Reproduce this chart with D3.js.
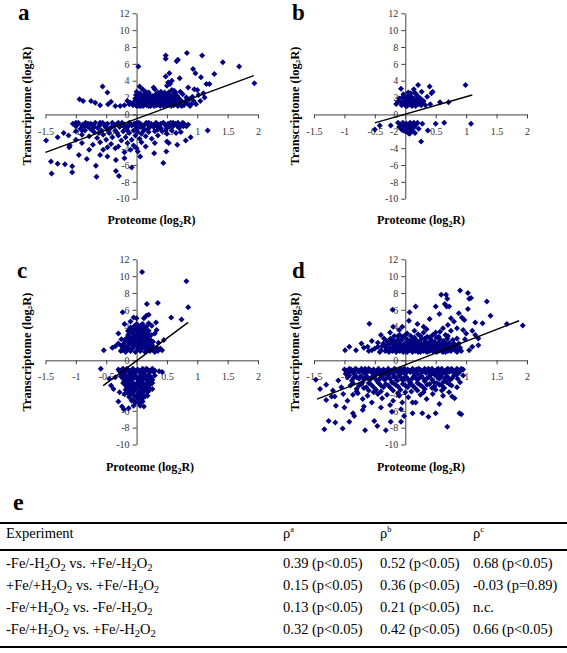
<!DOCTYPE html>
<html><head><meta charset="utf-8">
<script src="https://cdn.jsdelivr.net/npm/d3@7"></script>
<style>body{margin:0;background:#fff}svg{display:block}text{font-family:"Liberation Serif","Times New Roman",serif}</style>
</head><body><svg id="chart" width="567" height="653"></svg>
<script>
const xTicks=[-1.5,-1,-0.5,0,0.5,1,1.5,2];
const yTicks=[-10,-8,-6,-4,-2,0,2,4,6,8,10,12];

const aPoints=[[0.83,7.3],[0.48,7.0],[0.48,6.6],[0.68,6.5],[0.66,6.3],[1.08,7.0],[1.42,6.2],[1.69,5.7],[0.03,5.7],[0.93,5.4],[0.97,4.9],[1.28,4.8],[0.54,4.9],[0.48,4.5],[0.52,3.8],[0.55,3.6],[0.5,3.4],[0.58,4.0],[0.71,4.3],[1.06,4.4],[1.15,3.6],[1.2,3.6],[1.94,3.7],[-0.56,3.3],[-0.48,2.6],[0.05,3.3],[0.1,3.0],[0.28,3.2],[0.3,3.0],[0.95,3.0],[1.0,2.9],[0.85,3.2],[0.62,2.8],[0.4,2.7],[0.2,2.6],[1.1,2.5],[1.12,2.0],[1.05,1.6],[0.98,1.2],[1.02,2.3],[0.92,2.1],
[-0.94,1.8],[-0.88,1.6],[-0.75,1.6],[-0.68,1.4],[-0.6,1.1],[-0.47,1.2],[-0.42,1.5],[-0.35,1.0],[-0.27,1.0],[-0.2,1.1],[-0.12,1.2],[-0.15,1.6],
[-0.06,1.1],[-0.04,1.5],[-0.02,1.9],[-0.01,2.3],[0.01,1.2],[0.02,1.7],[0.03,2.1],[0.04,1.0],[0.05,1.4],[0.06,2.5],[0.07,1.8],[0.08,1.2],[0.09,2.2],[0.1,1.5],[0.11,1.0],[0.12,1.9],[0.13,2.4],[0.14,1.3],[0.15,1.7],[0.16,2.1],[0.17,1.1],[0.18,1.5],[0.19,2.0],[0.2,1.2],[0.21,1.8],[0.22,2.3],[0.23,1.0],[0.24,1.4],[0.25,1.9],[0.26,1.2],[0.27,2.2],[0.28,1.6],[0.29,1.0],[0.3,1.3],[0.31,1.8],[0.32,2.4],[0.33,1.1],[0.34,1.5],[0.35,2.0],[0.36,1.2],[0.37,1.7],[0.38,2.2],[0.39,1.0],[0.4,1.4],[0.41,1.9],[0.42,1.2],[0.43,2.4],[0.44,1.6],[0.45,1.0],[0.46,2.0],[0.47,1.3],[0.48,1.7],[0.49,2.2],[0.5,1.1],[0.51,1.5],[0.52,1.9],[0.53,2.6],[0.54,1.2],[0.55,1.7],[0.56,2.1],[0.57,1.0],[0.58,1.4],[0.59,2.3],[0.6,1.8],[0.61,1.1],[0.62,1.5],[0.63,2.0],[0.64,2.6],[0.65,1.2],[0.66,1.7],[0.67,2.2],[0.68,1.0],[0.69,1.4],[0.7,1.9],[0.72,1.2],[0.74,1.6],[0.76,2.4],[0.78,1.1],[0.8,1.5],[0.82,2.0],[0.84,1.3],[0.87,1.8],[0.9,1.2],[0.94,1.6],[0.72,2.7],[0.58,2.9],[0.46,2.6],[0.15,2.7],[0.0,2.7],[0.35,2.6],
[0.0,1.0],[0.03,1.5],[0.07,1.0],[0.1,2.0],[0.2,1.0],[0.3,2.1],[0.4,1.7],[0.5,2.4],[0.6,1.2],[0.7,1.5],[0.74,1.0],[0.88,1.0],[0.2,2.3],[-0.1,1.4],
[-1.05,-1.1],[-1.0,-1.4],[-0.96,-1.0],[-0.92,-1.7],[-0.88,-1.2],[-0.84,-1.0],[-0.8,-1.5],[-0.76,-1.1],[-0.72,-1.3],[-0.68,-1.0],[-0.64,-1.6],[-0.6,-1.2],[-0.56,-1.0],[-0.52,-1.4],[-0.48,-1.1],[-0.44,-1.7],[-0.4,-1.0],[-0.36,-1.3],[-0.32,-1.1],[-0.28,-1.5],[-0.24,-1.0],[-0.2,-1.2],[-0.16,-1.6],[-0.12,-1.0],[-0.08,-1.3],[-0.04,-1.1],[0.0,-1.5],[0.04,-1.0],[0.08,-1.2],[0.12,-1.7],[0.16,-1.0],[0.2,-1.3],[0.24,-1.1],[0.28,-1.5],[0.32,-1.0],[0.36,-1.2],[0.4,-1.6],[0.44,-1.0],[0.48,-1.3],[0.52,-1.1],[0.56,-1.0],[0.6,-1.4],[0.64,-1.1],[0.68,-1.0],[0.72,-1.3],[0.78,-1.1],[0.85,-1.2],
[-1.0,-1.0],[-0.9,-1.3],[-0.8,-1.1],[-0.7,-1.5],[-0.6,-1.0],[-0.5,-1.2],[-0.4,-1.4],[-0.3,-1.0],[-0.2,-1.5],[-0.1,-1.1],[0.0,-1.0],[0.1,-1.4],[0.2,-1.0],[0.3,-1.2],[0.4,-1.1],[0.5,-1.6],[0.6,-1.0],[0.7,-1.6],
[-0.98,-1.2],[-0.86,-1.4],[-0.74,-1.2],[-0.62,-1.4],[-0.5,-1.5],[-0.38,-1.2],[-0.26,-1.3],[-0.14,-1.4],[-0.02,-1.3],[0.06,-1.5],[0.14,-1.2],[0.22,-1.5],[0.34,-1.4],[0.46,-1.1],[0.54,-1.4],[0.66,-1.3],[0.76,-1.0],[0.82,-1.4],[-0.9,-1.9],[-0.75,-1.8],[-0.62,-2.2],[-0.48,-1.8],[-0.32,-2.2],[-0.15,-1.9],[0.0,-1.8],[0.18,-1.8],[0.35,-1.8],[0.48,-1.9],
[-1.0,-2.0],[-0.9,-2.4],[-0.85,-1.9],[-0.78,-2.6],[-0.7,-2.1],[-0.65,-2.8],[-0.58,-1.9],[-0.55,-2.4],[-0.5,-3.0],[-0.45,-2.2],[-0.4,-2.7],[-0.35,-1.9],[-0.3,-2.5],[-0.25,-3.1],[-0.22,-2.0],[-0.18,-2.7],[-0.12,-2.2],[-0.08,-3.0],[-0.05,-1.9],[-0.02,-2.5],[0.02,-2.1],[0.05,-2.9],[0.08,-2.3],[0.12,-1.9],[0.15,-2.6],[0.2,-2.1],[0.25,-2.9],[0.3,-2.0],[0.35,-2.5],[0.42,-2.0],[0.5,-2.3],[0.58,-1.9],[0.65,-2.2],[-0.6,-3.3],[-0.42,-3.5],[-0.3,-3.8],[-0.15,-3.4],[-0.05,-3.7],[0.0,-4.0],[0.02,-4.4],[0.08,-3.3],[-0.1,-4.2],[-0.2,-4.5],[-0.35,-4.0],[-0.48,-3.9],[-0.72,-3.6],[-0.78,-4.2],[-0.9,-3.4],[-1.1,-3.7],[-1.0,-3.0],[-1.12,-2.5],[-1.2,-2.2],
[1.17,-1.9],[0.89,-2.7],[0.77,-1.4],[0.73,-2.1],[0.81,-3.1],[0.67,-3.6],[0.5,-3.2],[0.53,-3.4],
[-1.49,-3.1],[-1.3,-2.7],[-1.11,-3.9],[-1.41,-5.6],[-1.4,-7.0],[-1.3,-5.85],[-1.18,-5.9],[-1.06,-6.15],[-1.06,-6.85],[-0.95,-4.8],[-0.67,-6.1],[-0.66,-7.4],[-0.48,-5.0],[-0.34,-5.4],[-0.34,-6.7],[-0.29,-7.3],[-0.08,-6.3],[0.06,-5.0],[0.29,-4.6],[0.44,-5.75],[0.49,-4.4],[-0.6,-4.8],[-0.2,-5.2],[-0.55,-4.2],[0.3,-3.4],[0.15,-3.8],[-0.82,-5.3]];
const aFit=[[-1.5,-4.5],[1.93,4.6]];

const bPoints=[[-0.07,3.06],[0.21,3.5],[0.4,3.3],[0.45,2.7],[0.36,2.1],[0.43,2.5],[0.99,3.5],[0.57,1.45],[0.71,1.45],[0.41,1.2],[0.14,3.0],[0.27,2.7],[0.15,2.6],[-0.15,1.25],[0.33,1.1],[0.2,2.2],[0.25,1.9],[0.3,1.6],[0.18,1.3],
[-0.1,1.9],[-0.08,1.5],[-0.06,1.1],[-0.04,2.1],[-0.02,1.7],[0.0,1.3],[0.02,2.0],[0.03,1.0],[0.04,1.6],[0.06,2.3],[0.07,1.2],[0.08,1.8],[0.09,1.4],[0.1,2.1],[0.11,1.0],[0.12,1.6],[0.13,1.2],[0.14,1.9],[0.16,1.5],[0.17,1.0],[0.18,2.4],[0.19,1.7],[0.21,1.2],[0.23,1.5],[0.26,1.1],[0.05,2.6],[-0.03,2.4],[0.01,1.0],[-0.05,1.2],[0.09,2.5],[0.22,1.9],[-0.12,1.5],[0.28,1.3],[0.11,1.3],
[-0.5,-1.8],[-0.42,-1.3],[-0.24,-1.3],[0.28,-1.1],[0.5,-1.1],[0.64,-1.0],[1.08,-1.1],[0.37,-1.9],[0.26,-3.2],[0.16,-2.2],
[-0.12,-1.0],[-0.1,-1.5],[-0.08,-1.2],[-0.06,-1.8],[-0.04,-1.0],[-0.02,-1.4],[0.0,-2.0],[0.02,-1.1],[0.04,-1.6],[0.05,-2.2],[0.06,-1.3],[0.08,-1.0],[0.09,-1.8],[0.1,-1.4],[0.12,-2.0],[0.13,-1.1],[0.15,-1.5],[0.18,-1.2],[0.2,-1.0],[0.22,-1.7],[0.07,-2.3],[-0.03,-1.9],[0.14,-1.0]];
const bFit=[[-0.5,-1.0],[1.1,2.3]];

const cPoints=[[0.09,10.5],[0.82,9.4],[0.85,6.3],[0.17,6.7],[0.35,6.8],[0.57,5.1],[0.74,4.85],[-0.23,5.7],[-0.05,5.1],[0.0,5.0],[0.16,5.3],[0.2,5.4],[-0.54,1.2],[-0.35,1.66],[0.39,1.4],[0.36,2.1],[0.45,2.4],[0.3,3.2],[0.25,4.1],[-0.3,3.2],[-0.25,2.5],[0.12,5.0],[-0.1,4.6],[0.3,1.2],[0.42,1.2],
[-0.26,1.1],[-0.22,1.4],[-0.18,1.0],[-0.14,1.3],[-0.1,1.1],[-0.06,1.5],[-0.02,1.0],[0.02,1.3],[0.06,1.1],[0.1,1.5],[0.14,1.0],[0.18,1.3],[0.22,1.1],[0.26,1.4],[0.3,1.0],
[-0.22,1.9],[-0.18,2.2],[-0.14,1.7],[-0.1,2.1],[-0.06,1.8],[-0.02,2.2],[0.02,1.7],[0.06,2.0],[0.1,1.8],[0.14,2.2],[0.18,1.7],[0.22,2.0],[0.26,1.8],
[-0.17,2.6],[-0.13,2.9],[-0.09,2.4],[-0.05,2.8],[-0.01,2.5],[0.03,2.9],[0.07,2.4],[0.11,2.7],[0.15,2.5],[0.19,2.8],[0.23,2.4],
[-0.12,3.3],[-0.08,3.6],[-0.04,3.1],[0.0,3.5],[0.04,3.2],[0.08,3.7],[0.12,3.3],[0.16,3.1],[0.2,3.5],
[-0.05,4.0],[0.0,4.3],[0.04,3.9],[0.08,4.2],[0.12,3.9],
[-0.2,4.3],[0.2,4.4],[0.33,3.6],[0.32,4.5],[-0.3,2.0],[-0.4,1.5],
[-0.24,1.2],[-0.2,1.6],[-0.16,1.5],[-0.12,1.9],[-0.08,1.3],[-0.04,1.7],[0.0,1.9],[0.04,1.5],[0.08,1.3],[0.12,1.6],[0.16,1.4],[0.2,1.6],[0.24,1.6],[0.28,1.2],[-0.2,2.4],[-0.15,2.3],[-0.11,2.2],[-0.07,2.0],[-0.03,2.3],[0.01,2.1],[0.05,2.3],[0.09,2.1],[0.13,2.0],[0.17,2.4],[0.21,2.2],[-0.14,3.0],[-0.1,2.7],[-0.06,3.2],[-0.02,2.7],[0.02,3.1],[0.06,2.7],[0.1,3.0],[0.14,2.8],[0.18,3.2],[-0.1,3.9],[-0.06,3.4],[-0.02,3.8],[0.02,3.6],[0.06,3.4],[0.1,3.6],[0.14,3.7],[0.02,4.2],[0.06,4.0],[0.1,4.3],[-0.02,4.1],[0.16,4.0],[-0.14,3.5],[0.24,3.0],[0.27,2.2],[-0.25,1.7],[0.33,1.5],[0.35,1.1],
[-0.3,-1.1],[-0.26,-1.4],[-0.22,-1.0],[-0.18,-1.3],[-0.14,-1.1],[-0.1,-1.5],[-0.06,-1.0],[-0.02,-1.3],[0.02,-1.1],[0.06,-1.5],[0.1,-1.0],[0.14,-1.3],[0.18,-1.1],[0.22,-1.4],[0.26,-1.0],[0.3,-1.2],
[-0.26,-1.9],[-0.22,-2.2],[-0.18,-1.8],[-0.14,-2.3],[-0.1,-1.9],[-0.06,-2.2],[-0.02,-1.8],[0.02,-2.3],[0.06,-1.9],[0.1,-2.2],[0.14,-1.8],[0.18,-2.1],[0.22,-1.9],[0.26,-2.3],
[-0.22,-2.7],[-0.18,-3.0],[-0.14,-2.6],[-0.1,-3.1],[-0.06,-2.7],[-0.02,-3.0],[0.02,-2.6],[0.06,-3.1],[0.1,-2.7],[0.14,-3.0],[0.18,-2.6],[0.22,-2.9],[0.26,-2.7],
[-0.18,-3.5],[-0.14,-3.9],[-0.1,-3.4],[-0.06,-3.8],[-0.02,-3.5],[0.02,-4.0],[0.06,-3.6],[0.1,-3.9],[0.14,-3.4],[0.18,-3.8],[0.22,-3.5],
[-0.12,-4.4],[-0.06,-4.7],[0.0,-4.4],[0.04,-4.9],[0.08,-4.5],[0.14,-4.3],[-0.02,-5.0],[0.1,-4.9],
[-0.28,-1.3],[-0.24,-1.1],[-0.2,-1.5],[-0.16,-1.0],[-0.12,-1.4],[-0.08,-1.2],[-0.04,-1.6],[0.0,-1.2],[0.04,-1.3],[0.08,-1.2],[0.12,-1.6],[0.16,-1.0],[0.2,-1.2],[0.24,-1.2],[0.28,-1.4],[-0.24,-1.7],[-0.2,-2.0],[-0.16,-2.1],[-0.12,-1.7],[-0.08,-2.1],[-0.04,-2.0],[0.0,-2.1],[0.04,-2.1],[0.08,-1.7],[0.12,-2.0],[0.16,-2.3],[0.2,-1.7],[0.24,-2.1],[-0.2,-2.5],[-0.16,-2.8],[-0.12,-2.9],[-0.08,-2.5],[-0.04,-2.9],[0.0,-2.8],[0.04,-2.8],[0.08,-2.5],[0.12,-2.8],[0.16,-2.9],[0.2,-2.8],[0.24,-2.5],[-0.16,-3.3],[-0.12,-3.6],[-0.08,-3.2],[-0.04,-3.6],[0.0,-3.3],[0.04,-3.8],[0.08,-3.3],[0.12,-3.6],[0.16,-3.3],[0.2,-3.2],[-0.1,-4.0],[-0.04,-4.2],[0.02,-4.6],[0.06,-4.2],[0.1,-4.5],[-0.08,-4.8],[-0.2,-4.0],[0.18,-4.2],[0.05,-5.2],
[-0.3,-4.9],[-0.24,-5.5],[-0.21,-5.8],[-0.13,-5.7],[-0.05,-5.4],[0.06,-5.4],[0.12,-5.5],[-0.59,-1.0],[-0.42,-3.0],[-0.38,-3.4],[0.37,-1.3],[0.42,-1.4],[0.23,-2.4],[-0.35,-2.0],[0.3,-1.8],[-0.28,-3.8],[0.26,-3.4],[-0.45,-2.2]];
const cFit=[[-0.55,-3.0],[0.85,4.5]];

const dPoints=[[0.9,8.3],[0.59,7.8],[0.67,7.8],[1.03,8.0],[1.08,7.4],[1.05,7.3],[1.34,7.0],[0.69,7.3],[0.65,6.7],[0.68,6.4],[0.72,6.4],[0.17,6.4],[0.5,6.4],[-0.21,6.0],[0.07,5.7],[0.88,5.6],[0.93,5.1],[0.97,4.8],[1.03,6.1],[1.4,5.3],[1.15,4.5],[1.27,4.4],[1.67,4.3],[1.93,4.15],[-0.59,4.35],[0.06,4.7],[0.2,4.3],[0.56,5.5],[0.4,4.9],[0.8,4.6],[0.75,5.0],[0.3,4.0],[-0.05,4.0],[0.85,3.8],[1.1,3.5],[1.15,3.0],[1.2,2.6],[1.1,1.6],[1.05,1.2],[1.2,1.8],[0.98,2.5],[1.0,3.2],[0.95,3.6],
[-0.99,1.2],[-0.92,1.6],[-0.81,1.2],[-0.72,2.0],[-0.68,1.5],[-0.6,1.1],[-0.55,2.3],[-0.5,1.4],[-0.45,2.1],[-0.42,1.0],[-0.38,1.7],[-0.35,2.6],
[-0.33,1.1],[-0.33,1.8],[-0.3,1.4],[-0.3,2.3],[-0.27,1.0],[-0.27,1.9],[-0.24,1.5],[-0.24,2.6],[-0.21,1.1],[-0.21,2.0],[-0.18,1.6],[-0.18,2.9],[-0.15,1.0],[-0.15,1.3],[-0.15,2.2],[-0.12,1.7],[-0.12,2.5],[-0.09,1.1],[-0.09,2.0],[-0.09,3.0],[-0.06,1.4],[-0.06,2.4],[-0.03,1.0],[-0.03,1.8],[-0.03,2.8],[0.0,1.3],[0.0,2.1],[0.03,1.0],[0.03,1.6],[0.03,2.5],[0.03,3.2],[0.06,1.2],[0.06,1.9],[0.09,1.5],[0.09,2.3],[0.09,2.9],[0.12,1.0],[0.12,1.8],[0.15,1.3],[0.15,2.1],[0.15,2.7],[0.18,1.6],[0.18,2.4],[0.21,1.0],[0.21,1.9],[0.21,3.1],[0.24,1.3],[0.24,2.2],[0.27,1.6],[0.27,2.6],[0.3,1.1],[0.3,1.9],[0.3,3.3],[0.33,1.4],[0.33,2.3],[0.36,1.0],[0.36,1.7],[0.36,2.8],[0.39,1.3],[0.39,2.1],[0.42,1.6],[0.42,2.5],[0.45,1.1],[0.45,1.9],[0.45,3.0],[0.48,1.4],[0.48,2.2],[0.51,1.0],[0.51,1.8],[0.51,2.7],[0.54,1.3],[0.54,2.1],[0.57,1.6],[0.57,2.5],[0.57,3.4],[0.6,1.1],[0.6,1.9],[0.63,1.4],[0.63,2.3],[0.66,1.0],[0.66,1.7],[0.66,3.0],[0.69,1.3],[0.69,2.6],[0.72,1.6],[0.72,2.1],[0.75,1.1],[0.75,3.5],[0.8,1.4],[0.8,2.0],[0.85,1.0],[0.85,2.6],[0.9,1.5],
[-0.32,1.5],[-0.29,1.2],[-0.26,2.2],[-0.23,1.2],[-0.2,1.4],[-0.17,2.0],[-0.14,1.6],[-0.11,1.2],[-0.08,1.7],[-0.05,1.1],[-0.02,1.5],[0.01,1.1],[0.02,1.8],[0.05,1.5],[0.07,2.2],[0.1,1.2],[0.11,2.0],[0.13,1.5],[0.14,2.4],[0.17,1.1],[0.19,1.8],[0.2,1.4],[0.23,1.7],[0.25,1.0],[0.26,2.0],[0.28,1.3],[0.31,1.6],[0.32,2.6],[0.34,1.1],[0.35,2.0],[0.38,1.6],[0.4,1.1],[0.41,1.9],[0.43,1.3],[0.44,2.2],[0.47,1.7],[0.49,1.1],[0.5,2.0],[0.53,1.5],[0.55,1.1],[0.56,1.9],[0.59,1.4],[0.61,2.1],[0.62,1.0],[0.65,1.3],[0.67,2.0],[0.7,1.1],[0.71,1.8],[0.74,1.4],[0.77,1.7],[0.78,2.4],[0.82,1.2],[0.83,1.7],[0.87,1.3],[0.88,2.0],[0.92,1.1],[-0.05,2.6],[0.12,2.6],[0.25,2.9],[0.4,2.7],[0.55,2.8],[0.7,2.9],[-0.2,2.4],[-0.12,2.9],[0.0,3.0],[-0.45,1.6],[-0.55,1.2],[-0.62,1.6],[-0.4,1.2],[-0.36,2.0],
[-0.25,3.3],[-0.1,3.6],[0.15,3.5],[0.35,3.7],[0.5,3.3],[0.62,3.8],[0.7,4.2],[-0.4,3.0],[-0.2,4.0],
[-1.0,-1.1],[-0.96,-1.4],[-0.92,-1.0],[-0.88,-1.3],[-0.84,-1.6],[-0.8,-1.1],[-0.76,-1.4],[-0.72,-1.0],[-0.68,-1.5],[-0.64,-1.2],[-0.6,-1.0],[-0.56,-1.4],[-0.52,-1.1],[-0.48,-1.6],[-0.44,-1.0],[-0.4,-1.3],[-0.36,-1.1],[-0.32,-1.5],[-0.28,-1.0],[-0.24,-1.3],[-0.2,-1.6],[-0.16,-1.1],[-0.12,-1.4],[-0.08,-1.0],[-0.04,-1.2],[0.0,-1.6],[0.04,-1.1],[0.08,-1.4],[0.12,-1.0],[0.16,-1.3],[0.2,-1.6],[0.24,-1.1],[0.28,-1.4],[0.32,-1.0],[0.36,-1.2],[0.4,-1.5],[0.44,-1.0],[0.48,-1.3],[0.52,-1.1],[0.56,-1.5],[0.6,-1.0],[0.64,-1.3],[0.68,-1.1],[0.72,-1.4],[0.76,-1.0],[0.8,-1.2],[0.85,-1.0],[0.9,-1.3],[0.95,-1.1],
[-0.98,-1.6],[-0.9,-1.2],[-0.82,-1.0],[-0.74,-1.2],[-0.66,-1.0],[-0.58,-1.2],[-0.5,-1.3],[-0.42,-1.5],[-0.34,-1.2],[-0.26,-1.5],[-0.18,-1.0],[-0.1,-1.2],[-0.02,-1.0],[0.06,-1.2],[0.14,-1.5],[0.22,-1.0],[0.3,-1.2],[0.38,-1.0],[0.46,-1.5],[0.54,-1.0],[0.62,-1.5],[0.7,-1.0],[0.78,-1.4],[0.88,-1.5],
[-0.97,-1.2],[-0.93,-1.5],[-0.89,-1.1],[-0.85,-1.3],[-0.78,-1.2],[-0.7,-1.2],[-0.62,-1.4],[-0.54,-1.2],[-0.46,-1.2],[-0.38,-1.4],[-0.3,-1.3],[-0.22,-1.2],[-0.14,-1.3],[-0.06,-1.5],[0.02,-1.4],[0.1,-1.2],[0.18,-1.1],[0.26,-1.3],[0.34,-1.5],[0.42,-1.2],[0.5,-1.5],[0.58,-1.2],[0.66,-1.5],[0.74,-1.2],[0.82,-1.4],[0.92,-1.0],
[-0.95,-2.0],[-0.88,-2.4],[-0.82,-1.8],[-0.76,-2.2],[-0.7,-2.6],[-0.64,-1.9],[-0.58,-2.3],[-0.52,-1.8],[-0.46,-2.5],[-0.4,-2.0],[-0.34,-2.3],[-0.28,-1.8],[-0.22,-2.6],[-0.16,-2.1],[-0.1,-1.8],[-0.04,-2.4],[0.02,-2.0],[0.08,-2.6],[0.14,-1.9],[0.2,-2.3],[0.26,-1.8],[0.32,-2.5],[0.38,-2.0],[0.44,-2.3],[0.5,-1.8],[0.56,-2.2],[0.62,-2.6],[0.68,-1.9],[0.74,-2.3],[0.8,-1.8],[0.86,-2.2],
[-0.85,-2.1],[-0.73,-1.9],[-0.61,-2.1],[-0.49,-2.2],[-0.37,-1.8],[-0.25,-2.2],[-0.13,-2.4],[-0.01,-2.0],[0.11,-2.2],[0.23,-2.1],[0.35,-2.2],[0.47,-2.6],[0.59,-1.9],[0.71,-2.1],
[-0.92,-1.8],[-0.8,-2.0],[-0.68,-2.2],[-0.55,-2.0],[-0.43,-2.3],[-0.31,-2.1],[-0.19,-1.9],[-0.07,-2.1],[0.05,-2.3],[0.17,-2.1],[0.29,-2.1],[0.41,-1.8],[0.53,-2.0],[0.65,-2.2],[0.77,-2.1],[0.84,-1.7],
[-0.9,-3.0],[-0.8,-3.4],[-0.72,-2.8],[-0.64,-3.2],[-0.56,-2.9],[-0.48,-3.5],[-0.4,-3.0],[-0.32,-2.8],[-0.24,-3.3],[-0.16,-2.9],[-0.08,-3.5],[0.0,-3.0],[0.08,-2.8],[0.16,-3.3],[0.24,-2.9],[0.32,-3.4],[0.4,-2.8],[0.48,-3.1],[0.56,-2.9],[0.64,-3.3],[0.72,-2.8],[-0.6,-3.6],[-0.2,-3.6],[0.2,-3.6],[0.5,-3.5],
[-0.86,-2.7],[-0.76,-3.0],[-0.68,-3.3],[-0.6,-2.7],[-0.52,-3.2],[-0.44,-2.7],[-0.36,-3.2],[-0.28,-3.0],[-0.2,-2.7],[-0.12,-3.1],[-0.04,-2.8],[0.04,-3.2],[0.12,-3.0],[0.2,-2.7],[0.28,-3.1],[0.36,-2.9],[0.44,-3.3],[0.52,-2.7],[0.6,-3.0],[0.68,-2.6],[0.76,-3.0],
[-0.8,-3.7],[-0.4,-3.7],[0.0,-3.8],[0.3,-3.8],[0.6,-3.6],[-0.52,-3.8],[-0.12,-3.9],[0.1,-3.7],
[-1.19,-3.6],[-1.21,-4.3],[-1.47,-2.3],[-1.3,-2.9],[-1.16,-4.3],[-1.14,-5.4],[-1.05,-3.2],[-1.1,-2.4],[-1.02,-4.0],[-0.95,-4.8],[-0.86,-4.1],[-0.78,-3.9],[-0.7,-4.6],[-0.62,-4.2],[-0.55,-5.0],[-0.45,-4.0],[-0.38,-4.5],[-0.3,-4.1],[-0.2,-4.8],[-0.1,-4.2],[-0.05,-5.0],[0.05,-4.4],[0.12,-5.0],[0.17,-5.0],[0.25,-4.1],[0.35,-4.6],[0.45,-4.0],[0.56,-5.2],[0.62,-4.2],[0.77,-4.3],[0.81,-4.5],[0.72,-3.8],[0.85,-3.2],[0.9,-2.6],[0.95,-1.8],[-0.7,-5.9],[-0.68,-5.5],[-0.07,-5.8],[-0.4,-5.6],[-0.25,-5.3],
[-1.33,-8.2],[-1.26,-7.2],[-1.15,-7.4],[-1.03,-8.1],[-0.92,-7.3],[-0.66,-8.3],[-0.51,-7.2],[-0.46,-7.8],[-0.32,-8.3],[-0.24,-7.3],[-0.07,-7.3],[-0.02,-6.6],[0.12,-6.3],[0.28,-6.3],[0.38,-6.7],[0.5,-6.3],[0.69,-7.9],[0.89,-6.3],[0.92,-6.4],[-0.22,-6.1],[-0.86,-6.3],[-0.84,-6.6],[-1.0,-5.6],[-1.3,-4.7],[-1.4,-3.4]];
const dFit=[[-1.45,-4.6],[1.87,4.7]];

const panelLetters=["a","b","c","d"];
const tableLetter="e";
const tableHeaders=["Experiment","a","b","c"];
const experiments=["-Fe/-H2O2 vs. +Fe/-H2O2","+Fe/+H2O2 vs. +Fe/-H2O2","-Fe/+H2O2 vs. -Fe/-H2O2","-Fe/+H2O2 vs. +Fe/-H2O2"];
const rhoA=["0.39 (p<0.05)","0.15 (p<0.05)","0.13 (p<0.05)","0.32 (p<0.05)"];
const rhoB=["0.52 (p<0.05)","0.36 (p<0.05)","0.21 (p<0.05)","0.42 (p<0.05)"];
const rhoC=["0.68 (p<0.05)","-0.03 (p=0.89)","n.c.","0.66 (p<0.05)"];

const svg=d3.select("#chart");
const navy="#000080";
const axisCol="#404040";

const layouts=[
 {pts:aPoints,fit:aFit,xr:[45.5,258],yr:[198.7,13.3],lx:18,ly:20,ylx:27,yly:106,xlx:151.5,xly:224},
 {pts:bPoints,fit:bFit,xr:[314,527],yr:[198.7,13.3],lx:292,ly:20,ylx:295,yly:106,xlx:421,xly:224},
 {pts:cPoints,fit:cFit,xr:[45.5,258],yr:[444.5,259.3],lx:17,ly:277.5,ylx:27,yly:352,xlx:150,xly:470.5},
 {pts:dPoints,fit:dFit,xr:[314,527],yr:[444.5,259.3],lx:292,ly:277.5,ylx:295,yly:352,xlx:421,xly:470.5}
];

layouts.forEach((L,i)=>{
  const x=d3.scaleLinear().domain([-1.5,2]).range(L.xr);
  const y=d3.scaleLinear().domain([-10,12]).range(L.yr);
  const g=svg.append("g");
  const ya=g.append("g").attr("transform",`translate(${x(0)},0)`)
    .call(d3.axisLeft(y).tickValues(yTicks).tickSize(4).tickPadding(3).tickSizeOuter(0).tickFormat(d=>String(d)));
  const xa=g.append("g").attr("transform",`translate(0,${y(0)})`)
    .call(d3.axisBottom(x).tickValues(xTicks).tickSize(4).tickPadding(9).tickSizeOuter(0).tickFormat(d=>d===0?"":String(d)));
  [ya,xa].forEach(a=>{
    a.select(".domain").attr("stroke",axisCol);
    a.selectAll(".tick line").attr("stroke",axisCol);
    a.selectAll("text").attr("fill","#333").style("font-size","10px").style("font-family","'Liberation Serif',serif");
  });
  g.append("g").selectAll("path").data(L.pts).join("path")
    .attr("d","M0,-3L3,0L0,3L-3,0Z")
    .attr("transform",d=>`translate(${x(d[0])},${y(d[1])})`)
    .attr("fill",navy);
  g.append("line").attr("x1",x(L.fit[0][0])).attr("y1",y(L.fit[0][1]))
    .attr("x2",x(L.fit[1][0])).attr("y2",y(L.fit[1][1]))
    .attr("stroke","#000").attr("stroke-width",1.4);
  g.append("text").attr("x",L.lx).attr("y",L.ly).text(panelLetters[i])
    .style("font-size","23px").style("font-weight","bold");
  const yl=g.append("text").attr("transform",`translate(${L.ylx},${L.yly}) rotate(-90)`)
    .attr("text-anchor","middle").attr("dominant-baseline","central")
    .style("font-size","12.5px").style("font-weight","bold");
  yl.append("tspan").text("Transcriptome (log");
  yl.append("tspan").text("2").style("font-size","7px").attr("dy",3);
  yl.append("tspan").text("R)").attr("dy",-3);
  const xl=g.append("text").attr("x",L.xlx).attr("y",L.xly).attr("text-anchor","middle")
    .style("font-size","12px").style("font-weight","bold");
  xl.append("tspan").text("Proteome (log");
  xl.append("tspan").text("2").style("font-size","8px").attr("dy",3);
  xl.append("tspan").text("R)").attr("dy",-3);
});

// table
const t=svg.append("g").style("font-size","14.5px");
t.append("text").attr("x",13).attr("y",510).text(tableLetter).style("font-size","24px").style("font-weight","bold");
const colX=[6,283,380,473];
const rowY=[568,590,612,634];
const headY=538;
[[523,2],[550,2],[647,2]].forEach(([ly,w])=>{
  t.append("line").attr("x1",0).attr("x2",567).attr("y1",ly).attr("y2",ly).attr("stroke","#000").attr("stroke-width",w);
});
tableHeaders.forEach((h,j)=>{
  const tx=t.append("text").attr("x",colX[j]).attr("y",headY);
  if(j===0){tx.text(h);}else{
    tx.append("tspan").text("ρ");
    tx.append("tspan").text(h).style("font-size","8.5px").attr("dy",-6);
  }
});
experiments.forEach((s,r)=>{
  const tx=t.append("text").attr("x",colX[0]).attr("y",rowY[r]);
  let sub=false;
  s.split(/(\d)/).filter(p=>p.length).forEach(p=>{
    if(/^\d$/.test(p)){
      tx.append("tspan").text(p).attr("dy",3).style("font-size","10.5px");
      sub=true;
    } else {
      tx.append("tspan").text(p).attr("dy",sub?-3:0);
      sub=false;
    }
  });
  [rhoA,rhoB,rhoC].forEach((arr,j)=>{
    t.append("text").attr("x",colX[j+1]).attr("y",rowY[r]).text(arr[r]);
  });
});
</script></body></html>
